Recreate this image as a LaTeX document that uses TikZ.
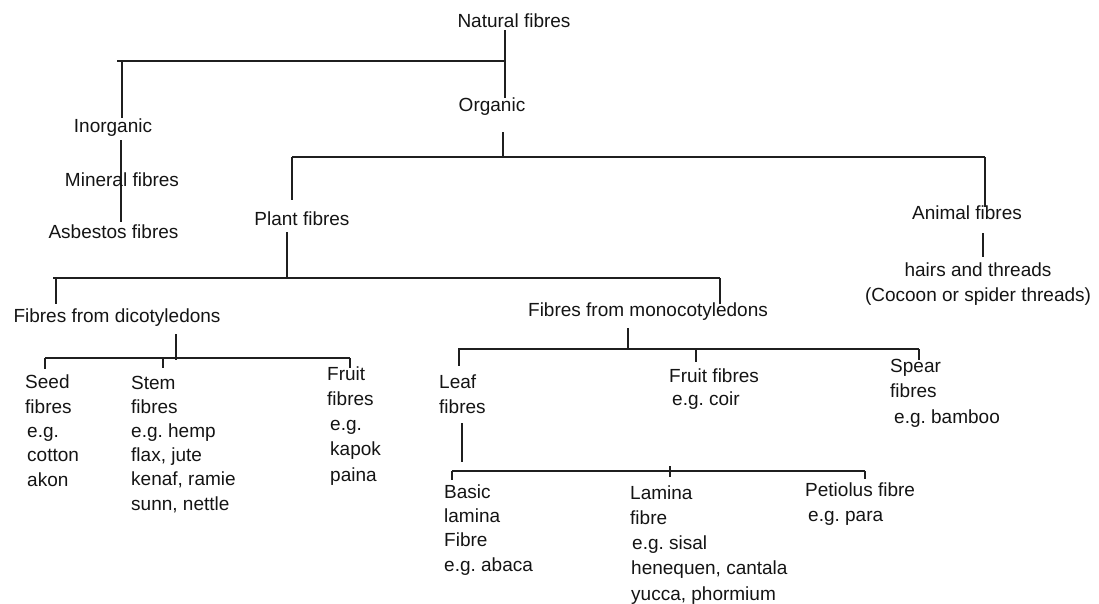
\documentclass[tikz,border=0pt]{standalone}
\usepackage{fontspec}
\setmainfont{Liberation Sans}
\frenchspacing
\newcommand{\fsz}[1]{\fontsize{19}{#1}\selectfont}
\begin{document}
\begin{tikzpicture}[x=1pt,y=-1pt,
  conn/.style={draw=black!88, line width=1.6pt},
  lbl/.style={font=\fsz{24.3}, inner sep=0pt, text=black!92},
  blk/.style={lbl, align=left, anchor=base west},
]
\useasboundingbox (0,0) rectangle (1099,603);
% ---------- junction coordinates ----------
\coordinate (natB) at (505,30);   \coordinate (orgT) at (505,98);
\coordinate (b1L) at (117,61);    \coordinate (b1R) at (505,61);
\coordinate (b1i) at (122,61);    \coordinate (inoT) at (122,118);
\coordinate (inoB) at (121,140);  \coordinate (asbT) at (121,222);
\coordinate (orgB) at (503,132);  \coordinate (b2m) at (503,158);
\coordinate (b2L) at (292,157);   \coordinate (b2R) at (985,157);
\coordinate (plaT) at (292,200);  \coordinate (aniT) at (985,207);
\coordinate (plaB) at (287,232);  \coordinate (b3m) at (287,279);
\coordinate (b3L) at (53,278);    \coordinate (b3R) at (720,278);
\coordinate (b3d) at (56,278);    \coordinate (dicT) at (56,304);
\coordinate (monT) at (720,304);
\coordinate (aniB) at (983,233);  \coordinate (haiT) at (983,257);
\coordinate (dicB) at (176,334);  \coordinate (b4m) at (176,360);
\coordinate (b4L) at (45,358);    \coordinate (b4R) at (350,358);
\coordinate (seeT) at (45,369);   \coordinate (b4s) at (163,358);
\coordinate (steT) at (163,368);  \coordinate (fruT) at (350,368);
\coordinate (monB) at (628,328);  \coordinate (b5m) at (628,349);
\coordinate (b5L) at (458,349);   \coordinate (b5R) at (919,349);
\coordinate (b5l) at (459,349);   \coordinate (leaT) at (459,366);
\coordinate (b5f) at (696,349);   \coordinate (fr2T) at (696,362);
\coordinate (speT) at (919,360);
\coordinate (leaB) at (462,423);  \coordinate (b6m) at (462,462);
\coordinate (b6L) at (452,471);   \coordinate (b6R) at (865,471);
\coordinate (basT) at (452,480);
\coordinate (lamU) at (670,466);  \coordinate (lamT) at (670,477);
\coordinate (petT) at (865,479);
% ---------- connectors ----------
\draw[conn] (natB) -- (orgT);
\draw[conn] (b1L) -- (b1R);
\draw[conn] (b1i) -- (inoT);
\draw[conn] (inoB) -- (asbT);
\draw[conn] (orgB) -- (b2m);
\draw[conn] (b2L) -- (b2R);
\draw[conn] (b2L) -- (plaT);
\draw[conn] (b2R) -- (aniT);
\draw[conn] (plaB) -- (b3m);
\draw[conn] (b3L) -- (b3R);
\draw[conn] (b3d) -- (dicT);
\draw[conn] (b3R) -- (monT);
\draw[conn] (aniB) -- (haiT);
\draw[conn] (dicB) -- (b4m);
\draw[conn] (b4L) -- (b4R);
\draw[conn] (b4L) -- (seeT);
\draw[conn] (b4s) -- (steT);
\draw[conn] (b4R) -- (fruT);
\draw[conn] (monB) -- (b5m);
\draw[conn] (b5L) -- (b5R);
\draw[conn] (b5l) -- (leaT);
\draw[conn] (b5f) -- (fr2T);
\draw[conn] (b5R) -- (speT);
\draw[conn] (leaB) -- (b6m);
\draw[conn] (b6L) -- (b6R);
\draw[conn] (b6L) -- (basT);
\draw[conn] (lamU) -- (lamT);
\draw[conn] (b6R) -- (petT);
% ---------- labels ----------
\node[lbl] (nat) at (514,21) {Natural fibres};
\node[lbl] (ino) at (113,128) {Inorganic};
\node[lbl] (min) at (122,180) {Mineral fibres};
\node[lbl] (asb) at (113.5,232) {Asbestos fibres};
\node[lbl] (org) at (492,107) {Organic};
\node[lbl] (pla) at (302,219) {Plant fibres};
\node[lbl] (ani) at (967,213) {Animal fibres};
\node[lbl, align=center, font=\fsz{25}] (hai) at (978,284.5) {hairs and threads\\(Cocoon or spider threads)};
\node[lbl] (dic) at (117,318) {Fibres from dicotyledons};
\node[lbl] (mon) at (648,312) {Fibres from monocotyledons};
\node[blk] (see) at (25,486) {Seed\\fibres\\\hspace*{2pt}e.g.\\\hspace*{2pt}cotton\\\hspace*{2pt}akon};
\node[blk, font=\fsz{24.2}] (ste) at (131,510) {Stem\\fibres\\e.g. hemp\\flax, jute\\kenaf, ramie\\sunn, nettle};
\node[blk, font=\fsz{25.2}] (fru) at (327,481) {Fruit\\fibres\\\hspace*{3pt}e.g.\\\hspace*{3pt}kapok\\\hspace*{3pt}paina};
\node[blk] (lea) at (439,413) {Leaf\\fibres};
\node[blk, font=\fsz{23}] (fr2) at (669,405) {Fruit fibres\\\hspace*{3pt}e.g. coir};
\node[blk, font=\fsz{25.5}] (spe) at (890,423) {Spear\\fibres\\\hspace*{4pt}e.g. bamboo};
\node[blk] (bas) at (444,571) {Basic\\lamina\\Fibre\\e.g. abaca};
\node[blk, font=\fsz{25.2}] (lam) at (630,600) {Lamina\\fibre\\\hspace*{2pt}e.g. sisal\\\hspace*{1pt}henequen, cantala\\\hspace*{1pt}yucca, phormium};
\node[blk, font=\fsz{25}] (pet) at (805,521) {Petiolus fibre\\\hspace*{3pt}e.g. para};
\end{tikzpicture}
\end{document}
